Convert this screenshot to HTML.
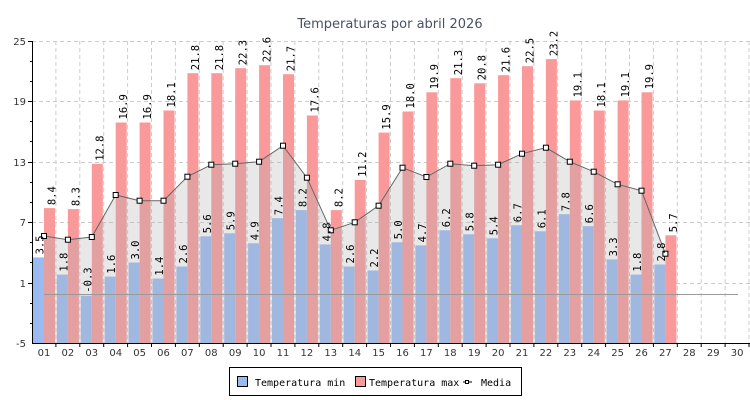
<!DOCTYPE html>
<html><head><meta charset="utf-8"><style>
body{margin:0;background:#fff}
svg{display:block}
.t{font-family:"DejaVu Sans Mono","Liberation Mono",monospace;font-size:10.5px;fill:#000}
.ax{font-family:"DejaVu Sans","Liberation Sans",sans-serif;font-size:10px;fill:#333}
</style></head><body>
<svg width="750" height="400" xmlns="http://www.w3.org/2000/svg">
<text x="390" y="28" text-anchor="middle" style="font-family:'DejaVu Sans','Liberation Sans',sans-serif;font-size:13px;fill:#4a5068">Temperaturas por abril 2026</text>
<g stroke="#ccc" stroke-dasharray="4,3" stroke-width="1">
<line x1="32" y1="41.5" x2="750" y2="41.5"/><line x1="32" y1="101.5" x2="750" y2="101.5"/><line x1="32" y1="162.5" x2="750" y2="162.5"/><line x1="32" y1="222.5" x2="750" y2="222.5"/><line x1="32" y1="283.5" x2="750" y2="283.5"/>
<line x1="55.9" y1="41" x2="55.9" y2="343"/><line x1="79.8" y1="41" x2="79.8" y2="343"/><line x1="103.7" y1="41" x2="103.7" y2="343"/><line x1="127.6" y1="41" x2="127.6" y2="343"/><line x1="151.5" y1="41" x2="151.5" y2="343"/><line x1="175.4" y1="41" x2="175.4" y2="343"/><line x1="199.3" y1="41" x2="199.3" y2="343"/><line x1="223.2" y1="41" x2="223.2" y2="343"/><line x1="247.1" y1="41" x2="247.1" y2="343"/><line x1="271" y1="41" x2="271" y2="343"/><line x1="294.9" y1="41" x2="294.9" y2="343"/><line x1="318.8" y1="41" x2="318.8" y2="343"/><line x1="342.7" y1="41" x2="342.7" y2="343"/><line x1="366.6" y1="41" x2="366.6" y2="343"/><line x1="390.5" y1="41" x2="390.5" y2="343"/><line x1="414.4" y1="41" x2="414.4" y2="343"/><line x1="438.3" y1="41" x2="438.3" y2="343"/><line x1="462.2" y1="41" x2="462.2" y2="343"/><line x1="486.1" y1="41" x2="486.1" y2="343"/><line x1="510" y1="41" x2="510" y2="343"/><line x1="533.9" y1="41" x2="533.9" y2="343"/><line x1="557.8" y1="41" x2="557.8" y2="343"/><line x1="581.7" y1="41" x2="581.7" y2="343"/><line x1="605.6" y1="41" x2="605.6" y2="343"/><line x1="629.5" y1="41" x2="629.5" y2="343"/><line x1="653.4" y1="41" x2="653.4" y2="343"/><line x1="677.3" y1="41" x2="677.3" y2="343"/><line x1="701.2" y1="41" x2="701.2" y2="343"/><line x1="725.1" y1="41" x2="725.1" y2="343"/><line x1="749" y1="41" x2="749" y2="343"/>
</g>
<g fill="#99bbf2">
<rect x="33" y="257.4" width="11" height="85.6"/><rect x="56.9" y="274.6" width="11" height="68.4"/><rect x="80.8" y="295.7" width="11" height="47.3"/><rect x="104.7" y="276.6" width="11" height="66.4"/><rect x="128.6" y="262.5" width="11" height="80.5"/><rect x="152.5" y="278.6" width="11" height="64.4"/><rect x="176.4" y="266.5" width="11" height="76.5"/><rect x="200.3" y="236.3" width="11" height="106.7"/><rect x="224.2" y="233.3" width="11" height="109.7"/><rect x="248.1" y="243.3" width="11" height="99.7"/><rect x="272" y="218.2" width="11" height="124.8"/><rect x="295.9" y="210.1" width="11" height="132.9"/><rect x="319.8" y="244.4" width="11" height="98.6"/><rect x="343.7" y="266.5" width="11" height="76.5"/><rect x="367.6" y="270.5" width="11" height="72.5"/><rect x="391.5" y="242.3" width="11" height="100.7"/><rect x="415.4" y="245.4" width="11" height="97.6"/><rect x="439.3" y="230.3" width="11" height="112.7"/><rect x="463.2" y="234.3" width="11" height="108.7"/><rect x="487.1" y="238.3" width="11" height="104.7"/><rect x="511" y="225.2" width="11" height="117.8"/><rect x="534.9" y="231.3" width="11" height="111.7"/><rect x="558.8" y="214.2" width="11" height="128.8"/><rect x="582.7" y="226.2" width="11" height="116.8"/><rect x="606.6" y="259.4" width="11" height="83.6"/><rect x="630.5" y="274.6" width="11" height="68.4"/><rect x="654.4" y="264.5" width="11" height="78.5"/>
</g>
<g fill="#fa9999">
<rect x="44" y="208.1" width="11" height="134.9"/><rect x="67.9" y="209.1" width="11" height="133.9"/><rect x="91.8" y="163.8" width="11" height="179.2"/><rect x="115.7" y="122.5" width="11" height="220.5"/><rect x="139.6" y="122.5" width="11" height="220.5"/><rect x="163.5" y="110.5" width="11" height="232.5"/><rect x="187.4" y="73.2" width="11" height="269.8"/><rect x="211.3" y="73.2" width="11" height="269.8"/><rect x="235.2" y="68.2" width="11" height="274.8"/><rect x="259.1" y="65.2" width="11" height="277.8"/><rect x="283" y="74.2" width="11" height="268.8"/><rect x="306.9" y="115.5" width="11" height="227.5"/><rect x="330.8" y="210.1" width="11" height="132.9"/><rect x="354.7" y="179.9" width="11" height="163.1"/><rect x="378.6" y="132.6" width="11" height="210.4"/><rect x="402.5" y="111.5" width="11" height="231.5"/><rect x="426.4" y="92.3" width="11" height="250.7"/><rect x="450.3" y="78.2" width="11" height="264.8"/><rect x="474.2" y="83.3" width="11" height="259.7"/><rect x="498.1" y="75.2" width="11" height="267.8"/><rect x="522" y="66.2" width="11" height="276.8"/><rect x="545.9" y="59.1" width="11" height="283.9"/><rect x="569.8" y="100.4" width="11" height="242.6"/><rect x="593.7" y="110.5" width="11" height="232.5"/><rect x="617.6" y="100.4" width="11" height="242.6"/><rect x="641.5" y="92.3" width="11" height="250.7"/><rect x="665.4" y="235.3" width="11" height="107.7"/>
</g>
<polygon fill="rgba(180,180,180,0.3)" points="44,343 44,236 67.9,239.7 91.8,237 115.7,195 139.6,200.7 163.5,200.7 187.4,176.7 211.3,164.7 235.2,163.7 259.1,161.7 283,145.7 306.9,177.7 330.8,230.3 354.7,222.3 378.6,205.7 402.5,167.7 426.4,177 450.3,163.7 474.2,165.7 498.1,164.7 522,153.7 545.9,147.7 569.8,161.7 593.7,171.7 617.6,184.3 641.5,190.7 665.4,253.7 665.4,343"/>
<line x1="44" y1="294.5" x2="738" y2="294.5" stroke="#999" stroke-width="1"/>
<polyline fill="none" stroke="#666" stroke-width="1" points="44,236 67.9,239.7 91.8,237 115.7,195 139.6,200.7 163.5,200.7 187.4,176.7 211.3,164.7 235.2,163.7 259.1,161.7 283,145.7 306.9,177.7 330.8,230.3 354.7,222.3 378.6,205.7 402.5,167.7 426.4,177 450.3,163.7 474.2,165.7 498.1,164.7 522,153.7 545.9,147.7 569.8,161.7 593.7,171.7 617.6,184.3 641.5,190.7 665.4,253.7"/>
<g fill="#fff" stroke="#000" stroke-width="1">
<rect x="41.5" y="233.5" width="5" height="5"/><rect x="65.4" y="237.2" width="5" height="5"/><rect x="89.3" y="234.5" width="5" height="5"/><rect x="113.2" y="192.5" width="5" height="5"/><rect x="137.1" y="198.2" width="5" height="5"/><rect x="161" y="198.2" width="5" height="5"/><rect x="184.9" y="174.2" width="5" height="5"/><rect x="208.8" y="162.2" width="5" height="5"/><rect x="232.7" y="161.2" width="5" height="5"/><rect x="256.6" y="159.2" width="5" height="5"/><rect x="280.5" y="143.2" width="5" height="5"/><rect x="304.4" y="175.2" width="5" height="5"/><rect x="328.3" y="227.8" width="5" height="5"/><rect x="352.2" y="219.8" width="5" height="5"/><rect x="376.1" y="203.2" width="5" height="5"/><rect x="400" y="165.2" width="5" height="5"/><rect x="423.9" y="174.5" width="5" height="5"/><rect x="447.8" y="161.2" width="5" height="5"/><rect x="471.7" y="163.2" width="5" height="5"/><rect x="495.6" y="162.2" width="5" height="5"/><rect x="519.5" y="151.2" width="5" height="5"/><rect x="543.4" y="145.2" width="5" height="5"/><rect x="567.3" y="159.2" width="5" height="5"/><rect x="591.2" y="169.2" width="5" height="5"/><rect x="615.1" y="181.8" width="5" height="5"/><rect x="639" y="188.2" width="5" height="5"/><rect x="662.9" y="251.2" width="5" height="5"/>
</g>
<g class="t">
<text transform="translate(43.5,254.4) rotate(-90)">3.5</text><text transform="translate(67.4,271.6) rotate(-90)">1.8</text><text transform="translate(91.3,292.7) rotate(-90)">-0.3</text><text transform="translate(115.2,273.6) rotate(-90)">1.6</text><text transform="translate(139.1,259.5) rotate(-90)">3.0</text><text transform="translate(163,275.6) rotate(-90)">1.4</text><text transform="translate(186.9,263.5) rotate(-90)">2.6</text><text transform="translate(210.8,233.3) rotate(-90)">5.6</text><text transform="translate(234.7,230.3) rotate(-90)">5.9</text><text transform="translate(258.6,240.3) rotate(-90)">4.9</text><text transform="translate(282.5,215.2) rotate(-90)">7.4</text><text transform="translate(306.4,207.1) rotate(-90)">8.2</text><text transform="translate(330.3,241.4) rotate(-90)">4.8</text><text transform="translate(354.2,263.5) rotate(-90)">2.6</text><text transform="translate(378.1,267.5) rotate(-90)">2.2</text><text transform="translate(402,239.3) rotate(-90)">5.0</text><text transform="translate(425.9,242.4) rotate(-90)">4.7</text><text transform="translate(449.8,227.3) rotate(-90)">6.2</text><text transform="translate(473.7,231.3) rotate(-90)">5.8</text><text transform="translate(497.6,235.3) rotate(-90)">5.4</text><text transform="translate(521.5,222.2) rotate(-90)">6.7</text><text transform="translate(545.4,228.3) rotate(-90)">6.1</text><text transform="translate(569.3,211.2) rotate(-90)">7.8</text><text transform="translate(593.2,223.2) rotate(-90)">6.6</text><text transform="translate(617.1,256.4) rotate(-90)">3.3</text><text transform="translate(641,271.6) rotate(-90)">1.8</text><text transform="translate(664.9,261.5) rotate(-90)">2.8</text>
<text transform="translate(55.5,205.1) rotate(-90)">8.4</text><text transform="translate(79.4,206.1) rotate(-90)">8.3</text><text transform="translate(103.3,160.8) rotate(-90)">12.8</text><text transform="translate(127.2,119.5) rotate(-90)">16.9</text><text transform="translate(151.1,119.5) rotate(-90)">16.9</text><text transform="translate(175,107.5) rotate(-90)">18.1</text><text transform="translate(198.9,70.2) rotate(-90)">21.8</text><text transform="translate(222.8,70.2) rotate(-90)">21.8</text><text transform="translate(246.7,65.2) rotate(-90)">22.3</text><text transform="translate(270.6,62.2) rotate(-90)">22.6</text><text transform="translate(294.5,71.2) rotate(-90)">21.7</text><text transform="translate(318.4,112.5) rotate(-90)">17.6</text><text transform="translate(342.3,207.1) rotate(-90)">8.2</text><text transform="translate(366.2,176.9) rotate(-90)">11.2</text><text transform="translate(390.1,129.6) rotate(-90)">15.9</text><text transform="translate(414,108.5) rotate(-90)">18.0</text><text transform="translate(437.9,89.3) rotate(-90)">19.9</text><text transform="translate(461.8,75.2) rotate(-90)">21.3</text><text transform="translate(485.7,80.3) rotate(-90)">20.8</text><text transform="translate(509.6,72.2) rotate(-90)">21.6</text><text transform="translate(533.5,63.2) rotate(-90)">22.5</text><text transform="translate(557.4,56.1) rotate(-90)">23.2</text><text transform="translate(581.3,97.4) rotate(-90)">19.1</text><text transform="translate(605.2,107.5) rotate(-90)">18.1</text><text transform="translate(629.1,97.4) rotate(-90)">19.1</text><text transform="translate(653,89.3) rotate(-90)">19.9</text><text transform="translate(676.9,232.3) rotate(-90)">5.7</text>
</g>
<g stroke="#000" stroke-width="1">
<line x1="32.5" y1="41" x2="32.5" y2="344"/><line x1="32" y1="343.5" x2="750" y2="343.5"/>
<line x1="28" y1="41.5" x2="32" y2="41.5"/><line x1="28" y1="101.5" x2="32" y2="101.5"/><line x1="28" y1="162.5" x2="32" y2="162.5"/><line x1="28" y1="222.5" x2="32" y2="222.5"/><line x1="28" y1="283.5" x2="32" y2="283.5"/>
<line x1="30" y1="61.5" x2="32" y2="61.5"/><line x1="30" y1="81.5" x2="32" y2="81.5"/><line x1="30" y1="121.5" x2="32" y2="121.5"/><line x1="30" y1="141.5" x2="32" y2="141.5"/><line x1="30" y1="182.5" x2="32" y2="182.5"/><line x1="30" y1="202.5" x2="32" y2="202.5"/><line x1="30" y1="242.5" x2="32" y2="242.5"/><line x1="30" y1="262.5" x2="32" y2="262.5"/><line x1="30" y1="303.5" x2="32" y2="303.5"/><line x1="30" y1="323.5" x2="32" y2="323.5"/>
</g>
<g stroke="#000" stroke-width="1">
<line x1="55.9" y1="343" x2="55.9" y2="347"/><line x1="79.8" y1="343" x2="79.8" y2="347"/><line x1="103.7" y1="343" x2="103.7" y2="347"/><line x1="127.6" y1="343" x2="127.6" y2="347"/><line x1="151.5" y1="343" x2="151.5" y2="347"/><line x1="175.4" y1="343" x2="175.4" y2="347"/><line x1="199.3" y1="343" x2="199.3" y2="347"/><line x1="223.2" y1="343" x2="223.2" y2="347"/><line x1="247.1" y1="343" x2="247.1" y2="347"/><line x1="271" y1="343" x2="271" y2="347"/><line x1="294.9" y1="343" x2="294.9" y2="347"/><line x1="318.8" y1="343" x2="318.8" y2="347"/><line x1="342.7" y1="343" x2="342.7" y2="347"/><line x1="366.6" y1="343" x2="366.6" y2="347"/><line x1="390.5" y1="343" x2="390.5" y2="347"/><line x1="414.4" y1="343" x2="414.4" y2="347"/><line x1="438.3" y1="343" x2="438.3" y2="347"/><line x1="462.2" y1="343" x2="462.2" y2="347"/><line x1="486.1" y1="343" x2="486.1" y2="347"/><line x1="510" y1="343" x2="510" y2="347"/><line x1="533.9" y1="343" x2="533.9" y2="347"/><line x1="557.8" y1="343" x2="557.8" y2="347"/><line x1="581.7" y1="343" x2="581.7" y2="347"/><line x1="605.6" y1="343" x2="605.6" y2="347"/><line x1="629.5" y1="343" x2="629.5" y2="347"/><line x1="653.4" y1="343" x2="653.4" y2="347"/><line x1="677.3" y1="343" x2="677.3" y2="347"/><line x1="701.2" y1="343" x2="701.2" y2="347"/><line x1="725.1" y1="343" x2="725.1" y2="347"/><line x1="749" y1="343" x2="749" y2="347"/>
</g>
<g class="ax" text-anchor="end">
<text x="26" y="45">25</text><text x="26" y="105">19</text><text x="26" y="166">13</text><text x="26" y="226">7</text><text x="26" y="287">1</text><text x="26" y="347">-5</text>
</g>
<g class="ax" text-anchor="middle">
<text x="44" y="356">01</text><text x="67.9" y="356">02</text><text x="91.8" y="356">03</text><text x="115.7" y="356">04</text><text x="139.6" y="356">05</text><text x="163.5" y="356">06</text><text x="187.4" y="356">07</text><text x="211.3" y="356">08</text><text x="235.2" y="356">09</text><text x="259.1" y="356">10</text><text x="283" y="356">11</text><text x="306.9" y="356">12</text><text x="330.8" y="356">13</text><text x="354.7" y="356">14</text><text x="378.6" y="356">15</text><text x="402.5" y="356">16</text><text x="426.4" y="356">17</text><text x="450.3" y="356">18</text><text x="474.2" y="356">19</text><text x="498.1" y="356">20</text><text x="522" y="356">21</text><text x="545.9" y="356">22</text><text x="569.8" y="356">23</text><text x="593.7" y="356">24</text><text x="617.6" y="356">25</text><text x="641.5" y="356">26</text><text x="665.4" y="356">27</text><text x="689.3" y="356">28</text><text x="713.2" y="356">29</text><text x="737.1" y="356">30</text>
</g>
<rect x="229.5" y="367.5" width="292" height="28" fill="#fff" stroke="#000"/>
<rect x="237.5" y="376.5" width="10" height="10" fill="#99bbf2" stroke="#000"/>
<rect x="355.5" y="376.5" width="10" height="10" fill="#fa9999" stroke="#000"/>
<line x1="463" y1="382" x2="472" y2="382" stroke="#000"/>
<rect x="465.5" y="380.5" width="3" height="3" fill="#fff" stroke="#000"/>
<g style="font-family:'DejaVu Sans Mono','Liberation Mono',monospace;font-size:10px;fill:#000">
<text x="255" y="386">Temperatura min</text><text x="369" y="386">Temperatura max</text><text x="481" y="386">Media</text>
</g>
</svg>
</body></html>
